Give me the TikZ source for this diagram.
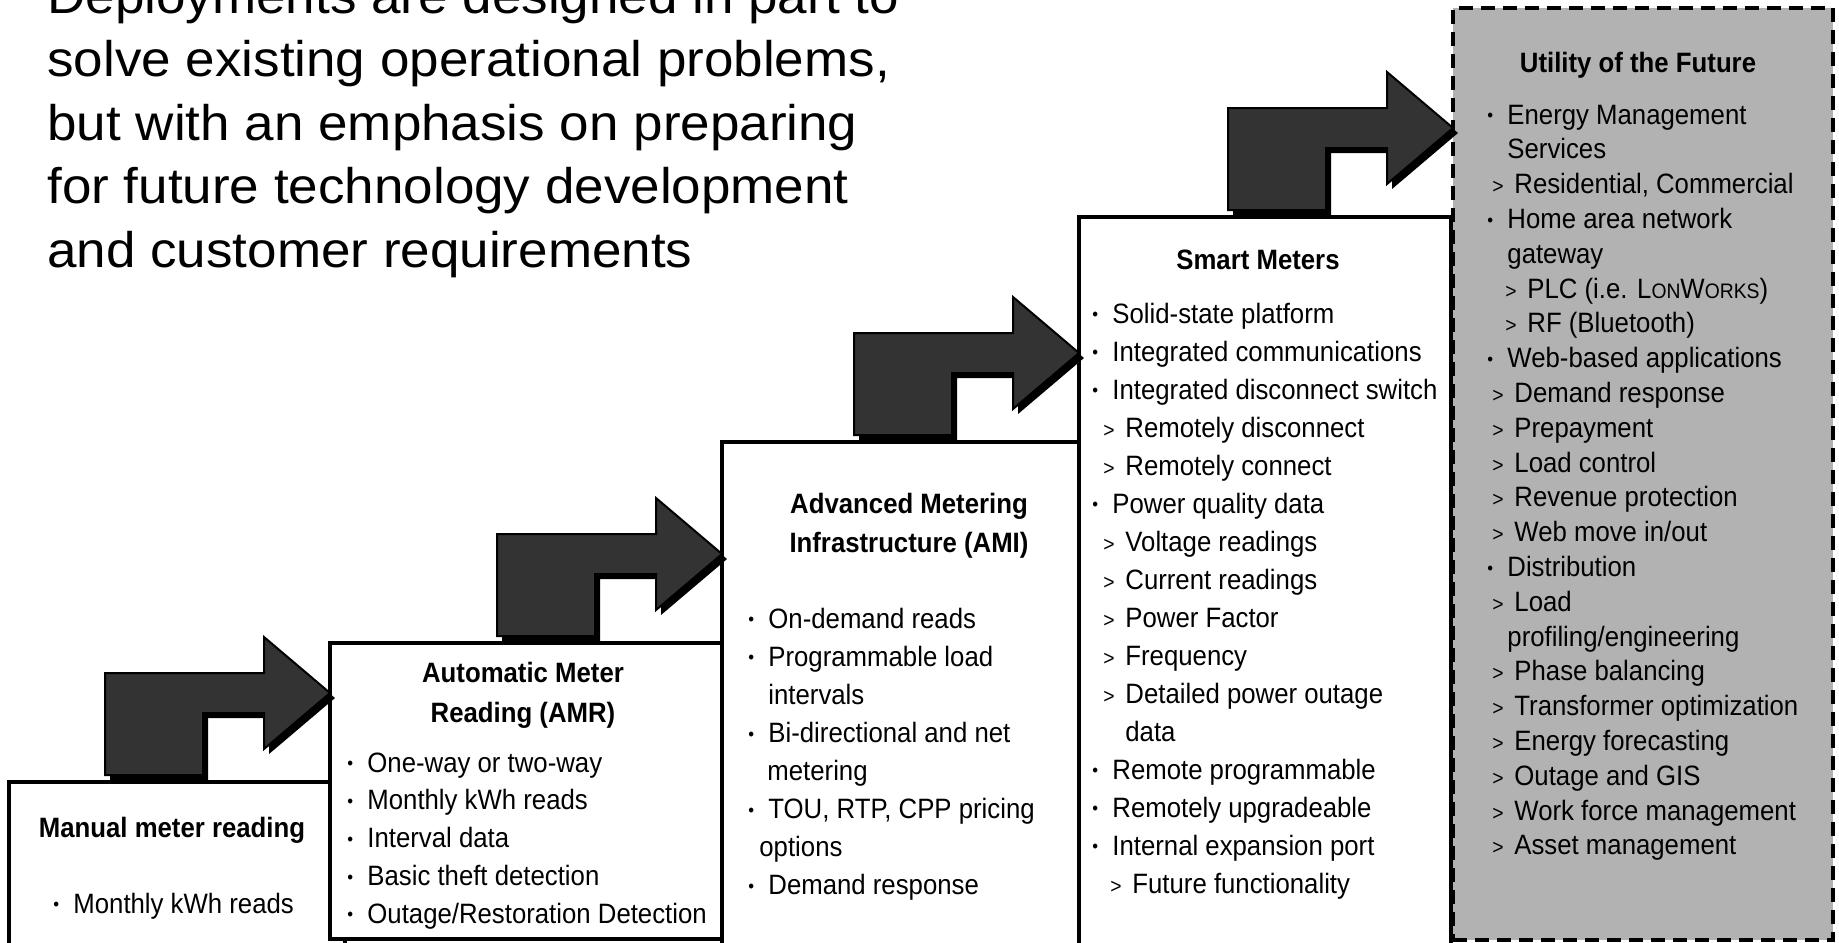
\documentclass[tikz,border=0pt]{standalone}
\usepackage{fontspec}
\setmainfont{Liberation Sans}[FakeStretch=0.92]
\newfontfamily\grandfont{Liberation Sans}[FakeStretch=1.06]
\usetikzlibrary{calc}

% puce et sous-point
\newcommand{\puce}{\makebox[10pt][l]{\raisebox{0.15ex}{\fontsize{9}{9}\selectfont\textbullet}}}
\newcommand{\sous}[1][2.5pt]{\hspace{#1}\makebox[11pt][l]{\fontsize{10.5}{12}\selectfont >}}

\begin{document}
\begin{tikzpicture}[x=0.5pt,y=-0.5pt,
    boite/.style={draw,line width=1.6pt,fill=white,inner sep=0pt,outer sep=0pt,anchor=north west},
    boitefutur/.style={boite,fill=black!30,dash pattern=on 7pt off 4pt,line width=2pt},
    corps/.style={font=\fontsize{14}{17}\selectfont,inner sep=0pt,anchor=base west},
    titre/.style={font=\fontsize{14}{17}\selectfont\bfseries,inner sep=0pt,anchor=base},
    grand/.style={font=\grandfont\fontsize{25}{30}\selectfont,inner sep=0pt,anchor=base west},
    fleche/.pic={
        \fill[black,shift={(5,5)}] (-225,82)--(-225,-20)--(-66,-20)--(-66,-56)--(0,0)--(-66,56)--(-66,20)--(-127,20)--(-127,82)--cycle;
        \draw[line width=1pt,fill=black!80] (-225,82)--(-225,-20)--(-66,-20)--(-66,-56)--(0,0)--(-66,56)--(-66,20)--(-127,20)--(-127,82)--cycle;
    }]
\useasboundingbox (0,0) rectangle (1839,942);
\clip (0,0) rectangle (1839,942);

% texte en haut a gauche
\foreach \ligne [count=\i from 0] in {%
    {Deployments are designed in part to},{solve existing operational problems,},%
    {but with an emphasis on preparing},{for future technology development},%
    {and customer requirements}}{
    \node[grand] (hd\i) at (47,13+63.6*\i) {\ligne};
}

% les cinq boites (le bas de certaines sort de la page)
\node[boite,minimum width=168pt,minimum height=89pt] (manuel) at (9,782) {};
\node[boite,minimum width=196pt,minimum height=148pt] (amr) at (330,643) {};
\node[boite,minimum width=178.5pt,minimum height=259pt] (ami) at (722,442) {};
\node[boite,minimum width=186pt,minimum height=371.5pt] (smart) at (1079,217) {};
\node[boitefutur,minimum width=190pt,minimum height=466pt] (futur) at (1453,8) {};

% fleches coudees
\coordinate (f1) at ($(manuel.north -| amr.west)+(0,-89)$);
\coordinate (f2) at ($(amr.north -| ami.west)+(0,-89)$);
\coordinate (f3) at ($(ami.north -| smart.west)+(0,-89)$);
\coordinate (f4) at ($(smart.north -| futur.west)+(0,-89)$);
\foreach \f in {f1,f2,f3,f4}{\pic at (\f) {fleche};}

% Manual meter reading
\node[titre] (tman) at (172,837) {Manual meter reading};
\node[corps] (man0) at (53,913) {\puce Monthly kWh reads};

% AMR
\node[titre] (tamr1) at (523,682) {Automatic Meter};
\node[titre] (tamr2) at (523,722) {Reading (AMR)};
\foreach \t [count=\i from 0] in {%
    {\puce One-way or two-way},{\puce Monthly kWh reads},{\puce Interval data},%
    {\puce Basic theft detection},{\puce Outage/Restoration Detection}}{
    \node[corps] (amr\i) at (347,772+37.8*\i) {\t};
}

% AMI
\node[titre] (tami1) at (909,513) {Advanced Metering};
\node[titre] (tami2) at (909,552) {Infrastructure (AMI)};
\foreach \t [count=\i from 0] in {%
    {\puce On-demand reads},{\puce Programmable load},{\hspace{10pt}intervals},%
    {\puce Bi-directional and net},{\hspace{9.5pt}metering},%
    {\puce TOU, RTP, CPP pricing},{\hspace{5.5pt}options},{\puce Demand response}}{
    \node[corps] (ami\i) at (748,628+38.1*\i) {\t};
}

% Smart Meters
\node[titre] (tsm) at (1258,269) {Smart Meters};
\foreach \t [count=\i from 0] in {%
    {\puce Solid-state platform},{\puce Integrated communications},%
    {\puce Integrated disconnect switch},{\sous[5.5pt]Remotely disconnect},%
    {\sous[5.5pt]Remotely connect},{\puce Power quality data},%
    {\sous[5.5pt]Voltage readings},{\sous[5.5pt]Current readings},%
    {\sous[5.5pt]Power Factor},{\sous[5.5pt]Frequency},%
    {\sous[5.5pt]Detailed power outage},{\hspace{16.5pt}data},%
    {\puce Remote programmable},{\puce Remotely upgradeable},%
    {\puce Internal expansion port},{\sous[9pt]Future functionality}}{
    \node[corps] (sm\i) at (1092,323+38*\i) {\t};
}

% Utility of the Future
\node[titre] (tfut) at (1638,72) {Utility of the Future};
\foreach \t [count=\i from 0] in {%
    {\puce Energy Management},{\hspace{10pt}Services},{\sous Residential, Commercial},%
    {\puce Home area network},{\hspace{10pt}gateway},%
    {\sous[9pt]PLC (i.e. L{\fontsize{10.5}{12}\selectfont ON}W{\fontsize{10.5}{12}\selectfont ORKS})},%
    {\sous[9pt]RF (Bluetooth)},{\puce Web-based applications},{\sous Demand response},%
    {\sous Prepayment},{\sous Load control},{\sous Revenue protection},%
    {\sous Web move in/out},{\puce Distribution},{\sous Load},%
    {\hspace{10pt}profiling/engineering},{\sous Phase balancing},%
    {\sous Transformer optimization},{\sous Energy forecasting},{\sous Outage and GIS},%
    {\sous Work force management},{\sous Asset management}}{
    \node[corps] (fut\i) at (1487,124+34.8*\i) {\t};
}

\end{tikzpicture}
\end{document}
